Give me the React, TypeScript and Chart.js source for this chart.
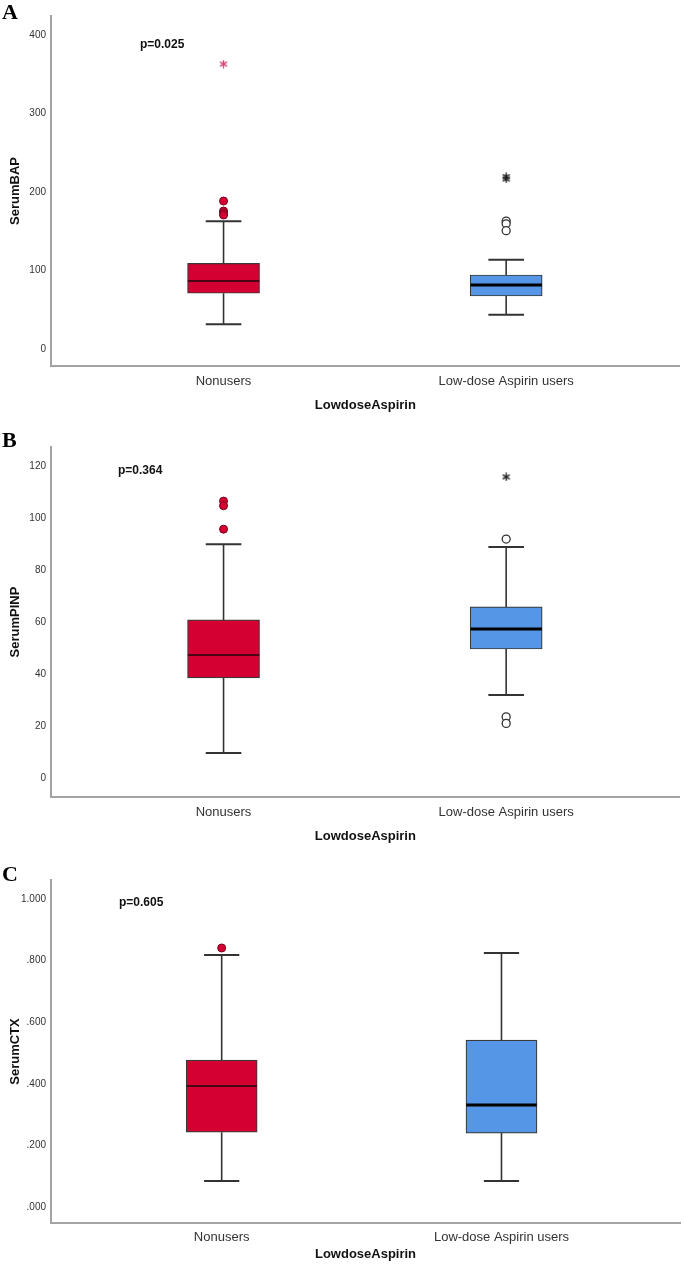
import React, { useEffect, useRef } from 'react';
import { Chart, registerables } from 'chart.js';

Chart.register(...registerables);

// ---------- data ----------
const categories = ['Nonusers', 'Low-dose Aspirin users'];

// Panel A: SerumBAP
const bapLow = [31.5, 43.7];
const bapQ1 = [71, 67.5];
const bapMedian = [86.6, 81.5];
const bapQ3 = [109, 94.3];
const bapHigh = [162.7, 113.8];
const bapOutliersNon = [188.5, 175.8, 173, 170.7];
const bapOutliersAsp = [163, 159.5, 150.7];
const bapExtremesNon = [363];
const bapExtremesAsp = [219.5, 216.6];
const bapTicks = [0, 100, 200, 300, 400];

// Panel B: SerumPINP
const pinpLow = [9.6, 31.9];
const pinpQ1 = [38.5, 49.6];
const pinpMedian = [47.3, 57.3];
const pinpQ3 = [60.8, 65.8];
const pinpHigh = [89.9, 88.8];
const pinpOutliersNon = [106.5, 104.7, 95.7];
const pinpOutliersAsp = [91.9, 23.5, 21];
const pinpExtremesNon: number[] = [];
const pinpExtremesAsp = [115.8];
const pinpTicks = [0, 20, 40, 60, 80, 100, 120];

// Panel C: SerumCTX
const ctxLow = [0.084, 0.084];
const ctxQ1 = [0.243, 0.24];
const ctxMedian = [0.393, 0.331];
const ctxQ3 = [0.477, 0.542];
const ctxHigh = [0.818, 0.825];
const ctxOutliersNon = [0.841];
const ctxOutliersAsp: number[] = [];
const ctxExtremesNon: number[] = [];
const ctxExtremesAsp: number[] = [];
const ctxTicks = [0, 0.2, 0.4, 0.6, 0.8, 1.0];

// ---------- styles ----------
const RED = '#d50032';
const BLUE = '#5596e6';
const AXIS = '#a3a3a3';
const INK = '#333333';
const SANS = "'Liberation Sans', Arial, sans-serif";
const PLOT_LEFT = 51;
const PLOT_RIGHT = 685;

function makeAsterisk(color: string): HTMLCanvasElement {
  const c = document.createElement('canvas');
  c.width = 9;
  c.height = 9;
  const g = c.getContext('2d') as CanvasRenderingContext2D;
  g.strokeStyle = color;
  g.lineWidth = 1.4;
  g.lineCap = 'round';
  const r = 3.6;
  for (let k = 0; k < 3; k++) {
    const a = Math.PI / 2 + (k * Math.PI) / 3;
    g.beginPath();
    g.moveTo(4.5 + r * Math.cos(a), 4.5 + r * Math.sin(a));
    g.lineTo(4.5 - r * Math.cos(a), 4.5 - r * Math.sin(a));
    g.stroke();
  }
  return c;
}

type PanelCfg = {
  letter: string;
  pText: string;
  pLeft: number;
  pTop: number;
  letterTop: number;
  top: number;
  height: number;
  padTop: number;
  xAxisY: number;
  xMin: number;
  xMax: number;
  yMin: number;
  yMax: number;
  boxPx: number;
  yTitle: string;
  ticks: number[];
  tickFmt: (v: number) => string;
  low: number[];
  q1: number[];
  median: number[];
  q3: number[];
  high: number[];
  outNon: number[];
  outAsp: number[];
  extNon: number[];
  extAsp: number[];
  titlePad: number;
  tickPad: number;
};

const panels: PanelCfg[] = [
  {
    letter: 'A', pText: 'p=0.025', pLeft: 140, pTop: 37, letterTop: 1,
    top: 0, height: 420, padTop: 16, xAxisY: 366,
    xMin: -0.6105, xMax: 1.614, yMin: -21.66, yMax: 424.2, boxPx: 72,
    yTitle: 'SerumBAP', ticks: bapTicks, tickFmt: (v) => String(v),
    low: bapLow, q1: bapQ1, median: bapMedian, q3: bapQ3, high: bapHigh,
    outNon: bapOutliersNon, outAsp: bapOutliersAsp, extNon: bapExtremesNon, extAsp: bapExtremesAsp,
    titlePad: 7, tickPad: 8,
  },
  {
    letter: 'B', pText: 'p=0.364', pLeft: 118, pTop: 463, letterTop: 429,
    top: 431, height: 420, padTop: 16, xAxisY: 366,
    xMin: -0.6105, xMax: 1.614, yMin: -7.31, yMax: 127.3, boxPx: 72,
    yTitle: 'SerumPINP', ticks: pinpTicks, tickFmt: (v) => String(v),
    low: pinpLow, q1: pinpQ1, median: pinpMedian, q3: pinpQ3, high: pinpHigh,
    outNon: pinpOutliersNon, outAsp: pinpOutliersAsp, extNon: pinpExtremesNon, extAsp: pinpExtremesAsp,
    titlePad: 7, tickPad: 8,
  },
  {
    letter: 'C', pText: 'p=0.605', pLeft: 119, pTop: 895, letterTop: 863,
    top: 860, height: 411, padTop: 20, xAxisY: 363,
    xMin: -0.61, xMax: 1.638, yMin: -0.052, yMax: 1.0617, boxPx: 71,
    yTitle: 'SerumCTX', ticks: ctxTicks, tickFmt: (v) => v.toFixed(3).replace(/^0/, ''),
    low: ctxLow, q1: ctxQ1, median: ctxMedian, q3: ctxQ3, high: ctxHigh,
    outNon: ctxOutliersNon, outAsp: ctxOutliersAsp, extNon: ctxExtremesNon, extAsp: ctxExtremesAsp,
    titlePad: 9, tickPad: 7,
  },
];

function buildConfig(p: PanelCfg): any {
  const capHalf = 0.063;
  const boxHalf = (p.boxPx / 2) / ((PLOT_RIGHT - PLOT_LEFT) / (p.xMax - p.xMin));
  const boxes = categories.map((_, i) => ({ x: i, y: [p.q1[i], p.q3[i]] }));
  const whiskers: any[] = [];
  const caps: any[] = [];
  categories.forEach((_, i) => {
    whiskers.push(
      { x: i, y: p.q3[i] }, { x: i, y: p.high[i] }, { x: i, y: null },
      { x: i, y: p.q1[i] }, { x: i, y: p.low[i] }, { x: i, y: null },
    );
    caps.push(
      { x: i - capHalf, y: p.high[i] }, { x: i + capHalf, y: p.high[i] }, { x: i, y: null },
      { x: i - capHalf, y: p.low[i] }, { x: i + capHalf, y: p.low[i] }, { x: i, y: null },
    );
  });
  const medianLine = (i: number) => [
    { x: i - boxHalf, y: p.median[i] },
    { x: i + boxHalf, y: p.median[i] },
  ];
  const pts = (i: number, vals: number[]) => vals.map((v) => ({ x: i, y: v }));
  const starRed = makeAsterisk('#d9407a');
  const starBlack = makeAsterisk('#222222');

  return {
    type: 'bar',
    data: {
      datasets: [
        {
          type: 'bar', data: boxes, order: 5,
          backgroundColor: [RED, BLUE], borderColor: '#3a3a3a', borderWidth: 1.2,
          borderSkipped: false, barThickness: p.boxPx,
        },
        {
          type: 'line', data: whiskers, order: 4, borderColor: INK, borderWidth: 1.6,
          pointRadius: 0, spanGaps: false, fill: false, tension: 0,
        },
        {
          type: 'line', data: caps, order: 4, borderColor: INK, borderWidth: 2,
          pointRadius: 0, spanGaps: false, fill: false, tension: 0,
        },
        {
          type: 'line', data: medianLine(0), order: 1, borderColor: '#4a0414', borderWidth: 2,
          pointRadius: 0, fill: false,
        },
        {
          type: 'line', data: medianLine(1), order: 1, borderColor: '#000000', borderWidth: 3,
          pointRadius: 0, fill: false,
        },
        {
          type: 'scatter', data: pts(0, p.outNon), order: 0, pointStyle: 'circle', pointRadius: 4,
          backgroundColor: RED, borderColor: '#7a0020', borderWidth: 1,
        },
        {
          type: 'scatter', data: pts(1, p.outAsp), order: 0, pointStyle: 'circle', pointRadius: 4,
          backgroundColor: '#ffffff', borderColor: INK, borderWidth: 1.3,
        },
        {
          type: 'scatter', data: pts(0, p.extNon), order: 0, pointStyle: starRed, pointRadius: 4,
        },
        {
          type: 'scatter', data: pts(1, p.extAsp), order: 0, pointStyle: starBlack, pointRadius: 4,
        },
      ],
    },
    options: {
      responsive: false,
      animation: false,
      devicePixelRatio: 1,
      layout: { padding: { top: p.padTop, left: 0, right: -5, bottom: 0 } },
      plugins: { legend: { display: false }, tooltip: { enabled: false } },
      scales: {
        x: {
          type: 'linear',
          offset: false,
          grace: 0,
          min: p.xMin,
          max: p.xMax,
          grid: { display: false, drawTicks: false, offset: false },
          border: { display: true, color: AXIS, width: 2 },
          afterBuildTicks: (s: any) => { s.ticks = categories.map((_, i) => ({ value: i })); },
          afterFit: (s: any) => {
            s.height = p.height - p.xAxisY;
            s.paddingLeft = 0;
            s.paddingRight = 0;
          },
          ticks: {
            padding: p.tickPad,
            color: INK,
            font: { family: SANS, size: 13 },
            maxRotation: 0,
            autoSkip: false,
            callback: (v: any) => categories[Math.round(v)] ?? '',
          },
          title: {
            display: true,
            text: 'LowdoseAspirin',
            color: '#111',
            font: { family: SANS, size: 13, weight: 'bold' },
            padding: { top: 0, bottom: p.titlePad },
          },
        },
        y: {
          type: 'linear',
          min: p.yMin,
          max: p.yMax,
          grid: { display: false, drawTicks: false },
          border: { display: true, color: AXIS, width: 2 },
          afterBuildTicks: (s: any) => { s.ticks = p.ticks.map((v) => ({ value: v })); },
          afterFit: (s: any) => { s.width = PLOT_LEFT; },
          ticks: {
            padding: 5,
            color: INK,
            font: { family: SANS, size: 10 },
            autoSkip: false,
            callback: (v: any) => p.tickFmt(Number(v)),
          },
          title: {
            display: true,
            text: p.yTitle,
            color: '#111',
            font: { family: SANS, size: 13, weight: 'bold' },
            padding: { top: 8, bottom: 0 },
          },
        },
      },
    },
  };
}

function Panel({ p }: { p: PanelCfg }) {
  const ref = useRef<HTMLCanvasElement>(null);
  useEffect(() => {
    const chart = new Chart(ref.current as HTMLCanvasElement, buildConfig(p));
    return () => chart.destroy();
  }, [p]);
  return (
    <div style={{ position: 'absolute', left: 0, top: p.top, width: 685, height: p.height }}>
      <canvas ref={ref} width={685} height={p.height} style={{ width: 685, height: p.height, display: 'block' }} />
    </div>
  );
}

export default function App() {
  return (
    <div style={{ position: 'absolute', left: 0, top: 0, width: 685, height: 1271, background: '#fff', overflow: 'hidden' }}>
      {panels.map((p) => (
        <Panel key={p.letter} p={p} />
      ))}
      {panels.map((p) => (
        <div
          key={'L' + p.letter}
          style={{
            position: 'absolute', left: 2, top: p.letterTop, fontFamily: "'Liberation Serif', 'Times New Roman', serif",
            fontWeight: 'bold', fontSize: 22, lineHeight: '22px', color: '#000',
          }}
        >
          {p.letter}
        </div>
      ))}
      {panels.map((p) => (
        <div
          key={'P' + p.letter}
          style={{
            position: 'absolute', left: p.pLeft, top: p.pTop, fontFamily: SANS,
            fontWeight: 'bold', fontSize: 12, lineHeight: '14px', color: '#111', whiteSpace: 'nowrap',
          }}
        >
          {p.pText}
        </div>
      ))}
    </div>
  );
}
